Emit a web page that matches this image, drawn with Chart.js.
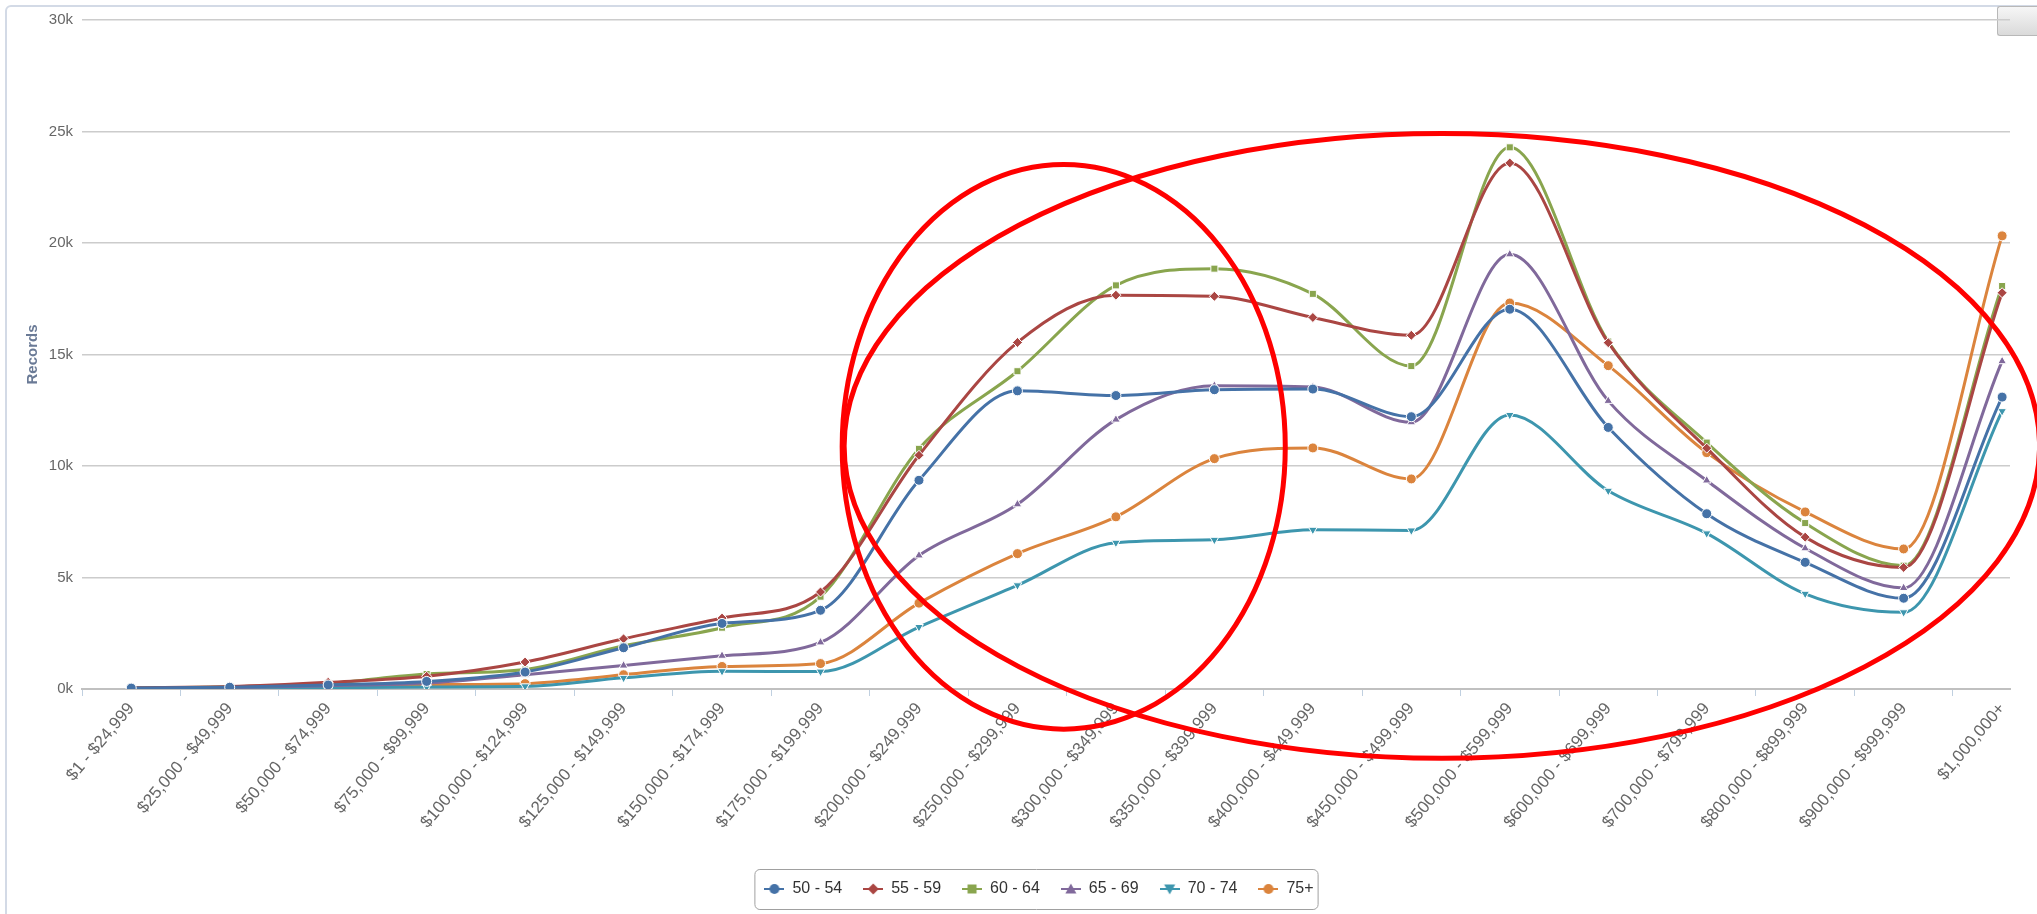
<!DOCTYPE html>
<html>
<head>
<meta charset="utf-8">
<script src="https://cdn.jsdelivr.net/npm/chart.js@4.4.1/dist/chart.umd.min.js"></script>
<style>
  html, body { margin: 0; padding: 0; background: #fff; overflow: hidden; }
  #wrap { position: relative; width: 2037px; height: 914px; }
  #frame { position: absolute; left: 5px; top: 5px; width: 2100px; height: 1000px; border: 2px solid #d3dae6; border-radius: 6px; box-sizing: border-box; }
  #btn { position: absolute; left: 1997px; top: 6px; width: 40px; height: 28px; border: 1px solid #b8b8b8; border-right: none; border-radius: 3px 0 0 3px; background: linear-gradient(#f6f6f6, #dadada); }
  canvas { position: absolute; left: 0; top: 0; }
</style>
</head>
<body>
<div id="wrap">
  <div id="frame"></div>
  <div id="btn"></div>
  <canvas id="recordsChart" width="2037" height="914"></canvas>
</div>
<script>
  // price bands on the x axis
  const priceRanges = ['$1 - $24,999', '$25,000 - $49,999', '$50,000 - $74,999', '$75,000 - $99,999',
    '$100,000 - $124,999', '$125,000 - $149,999', '$150,000 - $174,999', '$175,000 - $199,999',
    '$200,000 - $249,999', '$250,000 - $299,999', '$300,000 - $349,999', '$350,000 - $399,999',
    '$400,000 - $449,999', '$450,000 - $499,999', '$500,000 - $599,999', '$600,000 - $699,999',
    '$700,000 - $799,999', '$800,000 - $899,999', '$900,000 - $999,999', '$1,000,000+'];

  const ageGroups = ['50 - 54', '55 - 59', '60 - 64', '65 - 69', '70 - 74', '75+'];

  // records per band
  const age50to54 = [40, 80, 180, 340, 760, 1850, 2940, 3530, 9360, 13370, 13160, 13420, 13450, 12210, 17030, 11730, 7860, 5680, 4070, 13090];
  const age55to59 = [60, 110, 300, 570, 1210, 2250, 3180, 4350, 10480, 15540, 17660, 17610, 16660, 15860, 23590, 15530, 10800, 6810, 5450, 17770];
  const age60to64 = [50, 100, 250, 670, 870, 1940, 2750, 4140, 10770, 14250, 18100, 18850, 17720, 14480, 24290, 15580, 11050, 7440, 5530, 18070];
  const age65to69 = [30, 60, 150, 270, 640, 1050, 1490, 2090, 5990, 8280, 12080, 13600, 13540, 11960, 19490, 12920, 9350, 6310, 4530, 14700];
  const age70to74 = [10, 30, 60, 90, 120, 500, 800, 780, 2780, 4650, 6560, 6690, 7140, 7110, 12290, 8890, 6980, 4270, 3440, 12460];
  const age75plus = [20, 40, 100, 200, 240, 640, 1010, 1140, 3850, 6070, 7720, 10330, 10810, 9420, 17310, 14500, 10600, 7940, 6280, 20320];

  const yTicks = [0, 5000, 10000, 15000, 20000, 25000, 30000];

  const seriesValues = [age50to54, age55to59, age60to64, age65to69, age70to74, age75plus];
  const seriesColors = ['#4572A7', '#AA4643', '#89A54E', '#80699B', '#3D96AE', '#DB843D'];
  const markerStyles = ['circle', 'rectRot', 'rect', 'triangle', 'triangle', 'circle'];
  const markerRotation = [0, 0, 0, 0, 180, 0];

  // the two red rings drawn over the chart (centre / radius in axis units)
  const redRings = [
    { cx: 9.47, cy: 10860, rx: 2.25, ry: 12660 },
    { cx: 13.31, cy: 10900, rx: 6.07, ry: 14010 }
  ];

  // little line + marker icons for the legend
  function legendSymbol(color, shape) {
    const c = document.createElement('canvas');
    c.width = 20; c.height = 12;
    const g = c.getContext('2d');
    g.strokeStyle = color; g.fillStyle = color; g.lineWidth = 2;
    g.beginPath(); g.moveTo(0, 6); g.lineTo(20, 6); g.stroke();
    g.beginPath();
    if (shape === 0 || shape === 5) g.arc(10, 6, 5, 0, Math.PI * 2);
    else if (shape === 1) { g.moveTo(10, 0.5); g.lineTo(15.5, 6); g.lineTo(10, 11.5); g.lineTo(4.5, 6); }
    else if (shape === 2) g.rect(5.5, 1.5, 9, 9);
    else if (shape === 3) { g.moveTo(10, 0.5); g.lineTo(15.5, 10.5); g.lineTo(4.5, 10.5); }
    else { g.moveTo(4.5, 1.5); g.lineTo(15.5, 1.5); g.lineTo(10, 11.5); }
    g.closePath(); g.fill();
    return c;
  }
  const legendIcons = seriesColors.map((c, i) => legendSymbol(c, i));

  const datasets = ageGroups.map((name, i) => ({
    label: name,
    data: seriesValues[i].map((v, k) => ({ x: k, y: v })),
    borderColor: seriesColors[i],
    backgroundColor: seriesColors[i],
    borderWidth: 3,
    pointStyle: markerStyles[i],
    pointRotation: markerRotation[i],
    pointRadius: 5,
    pointBorderColor: '#ffffff',
    pointBorderWidth: 1,
    cubicInterpolationMode: 'monotone',
    fill: false
  }));

  const ringPlugin = {
    id: 'redRings',
    afterDatasetsDraw(chart) {
      const xs = chart.scales.x, ys = chart.scales.y, ctx = chart.ctx;
      ctx.save();
      ctx.strokeStyle = '#ff0000';
      ctx.lineWidth = 5;
      redRings.forEach(r => {
        const cx = xs.getPixelForValue(r.cx), cy = ys.getPixelForValue(r.cy);
        const rx = Math.abs(xs.getPixelForValue(r.cx + r.rx) - cx);
        const ry = Math.abs(ys.getPixelForValue(r.cy + r.ry) - cy);
        ctx.beginPath();
        ctx.ellipse(cx, cy, rx, ry, 0, 0, Math.PI * 2);
        ctx.stroke();
      });
      ctx.restore();
    }
  };

  // move the legend a bit right/down like the original, then box it
  const legendBoxPlugin = {
    id: 'legendBox',
    afterLayout(chart) {
      const lg = chart.legend;
      const h = lg.bottom - lg.top;
      lg.top = 860; lg.bottom = 860 + h;
      lg.left += 27; lg.right += 27;
    },
    afterDraw(chart) {
      const hb = chart.legend.legendHitBoxes;
      if (!hb || !hb.length) return;
      const last = hb[hb.length - 1];
      const l = hb[0].left - 10, r = last.left + last.width + 4;
      const t = hb[0].top - 12, b = hb[0].top + hb[0].height + 12;
      const ctx = chart.ctx;
      ctx.save();
      ctx.strokeStyle = '#a0a0a0';
      ctx.lineWidth = 1;
      ctx.beginPath();
      ctx.roundRect(l + 0.5, t + 0.5, r - l, b - t, 5);
      ctx.stroke();
      ctx.restore();
    }
  };

  new Chart(document.getElementById('recordsChart').getContext('2d'), {
    type: 'line',
    data: { datasets: datasets },
    plugins: [ringPlugin, legendBoxPlugin],
    options: {
      responsive: false,
      animation: false,
      layout: { padding: { left: 14, right: 27, top: 20, bottom: 19 } },
      scales: {
        x: {
          type: 'linear',
          min: -0.5,
          max: 19.08,
          afterBuildTicks: scale => { scale.ticks = priceRanges.map((_, i) => ({ value: i })); },
          afterFit: scale => { scale.height = 159; },
          border: { display: true, color: '#c0c0c0', width: 2 },
          grid: { offset: true, drawOnChartArea: false, drawTicks: true, tickLength: 7, color: '#c0d0e0' },
          ticks: {
            autoSkip: false,
            minRotation: 50,
            maxRotation: 50,
            padding: 3,
            color: '#666666',
            font: { family: 'Liberation Sans', size: 17 },
            callback: v => priceRanges[v]
          }
        },
        y: {
          min: 0,
          max: 30000,
          afterBuildTicks: scale => { scale.ticks = yTicks.map(v => ({ value: v })); },
          afterFit: scale => { scale.width = 68; },
          border: { display: false },
          grid: { color: '#cccccc', lineWidth: 1.5, drawTicks: false },
          title: {
            display: true,
            text: 'Records',
            color: '#6a7a96',
            font: { family: 'Liberation Sans', size: 15, weight: 'bold' },
            padding: { top: 10, bottom: 0 }
          },
          ticks: {
            padding: 9,
            color: '#666666',
            font: { family: 'Liberation Sans', size: 15 },
            callback: v => (v / 1000) + 'k'
          }
        }
      },
      plugins: {
        tooltip: { enabled: false },
        legend: {
          position: 'bottom',
          labels: {
            usePointStyle: true,
            pointStyleWidth: 20,
            padding: 21,
            color: '#333333',
            font: { family: 'Liberation Sans', size: 16 },
            generateLabels(chart) {
              const items = Chart.defaults.plugins.legend.labels.generateLabels(chart);
              items.forEach((it, i) => { it.pointStyle = legendIcons[i]; it.rotation = 0; });
              return items;
            }
          }
        }
      }
    }
  });
</script>
</body>
</html>
